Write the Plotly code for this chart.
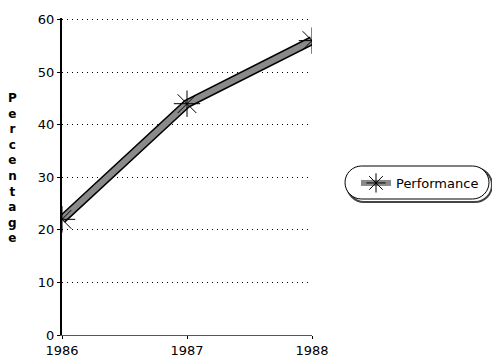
import plotly.graph_objects as go

years = [1986, 1987, 1988]
performance = [22, 44, 56]
y_ticks = [0, 10, 20, 30, 40, 50, 60]
series_name = "Performance"
y_title = "Percentage"

W, H = 492, 360
L, R, T, B = 62, 180, 18, 25
pw, ph = W - L - R, H - T - B

def px(x):
    return (x - L) / pw

def py(y):
    return (H - B - y) / ph

fig = go.Figure()
fig.add_trace(go.Scatter(x=years, y=performance, mode="lines",
                         line=dict(color="black", width=9), showlegend=False, hoverinfo="skip"))
fig.add_trace(go.Scatter(x=years, y=performance, mode="lines+markers", name=series_name,
                         line=dict(color="#8a8a8a", width=6),
                         marker=dict(symbol="asterisk-open", size=22, color="black",
                                     line=dict(color="black", width=1))))

def pill(x0, y0, x1, y1):
    r = (y1 - y0) / 2
    k = 0.55 * r
    pts = [
        ("M", [(x0 + r, y0)]),
        ("L", [(x1 - r, y0)]),
        ("C", [(x1 - r + k, y0), (x1, y0 + r - k), (x1, y0 + r)]),
        ("C", [(x1, y0 + r + k), (x1 - r + k, y1), (x1 - r, y1)]),
        ("L", [(x0 + r, y1)]),
        ("C", [(x0 + r - k, y1), (x0, y0 + r + k), (x0, y0 + r)]),
        ("C", [(x0, y0 + r - k), (x0 + r - k, y0), (x0 + r, y0)]),
    ]
    s = ""
    for cmd, ps in pts:
        s += cmd + " " + " ".join(f"{px(a):.4f},{py(b):.4f}" for a, b in ps) + " "
    return s + "Z"

fig.add_shape(type="path", path=pill(347, 168, 492, 202), xref="paper", yref="paper",
              line=dict(color="#444", width=2), fillcolor="white", layer="below")
fig.add_shape(type="path", path=pill(345, 166, 489, 199), xref="paper", yref="paper",
              line=dict(color="black", width=1), fillcolor="white", layer="below")

tick_font = dict(family="DejaVu Sans", size=13, color="black")
fig.update_layout(
    width=W, height=H,
    margin=dict(l=L, r=R, t=T, b=B, autoexpand=False),
    paper_bgcolor="white", plot_bgcolor="rgba(0,0,0,0)",
    font=dict(family="DejaVu Sans", size=13, color="black"),
    xaxis=dict(range=[1986, 1988], tickvals=years, ticktext=[str(y) for y in years],
               showgrid=False, showline=True, linecolor="#555", linewidth=1,
               ticks="outside", ticklen=3, tickcolor="black", zeroline=False,
               tickfont=tick_font, automargin=False),
    yaxis=dict(range=[0, 60.3], tickvals=y_ticks, showgrid=True, gridcolor="black",
               griddash="1px,4px", gridwidth=1, showline=True, linecolor="black", linewidth=2,
               ticks="outside", ticklen=3, tickcolor="black", zeroline=False,
               tickfont=tick_font, automargin=False),
    legend=dict(x=px(356), y=py(183), xanchor="left", yanchor="middle",
                bgcolor="rgba(0,0,0,0)", borderwidth=0,
                font=dict(family="DejaVu Sans", size=13), itemwidth=30),
    showlegend=True,
)
fig.add_annotation(x=px(12), y=py(168), xref="paper", yref="paper",
                   text="<br>".join("<b>" + c + "</b>" for c in y_title), showarrow=False,
                   font=dict(family="DejaVu Sans", size=12), align="center",
                   xanchor="center", yanchor="middle")
fig.write_html("out.html", config={"displayModeBar": False},
               post_script="document.body.style.margin='0';")
